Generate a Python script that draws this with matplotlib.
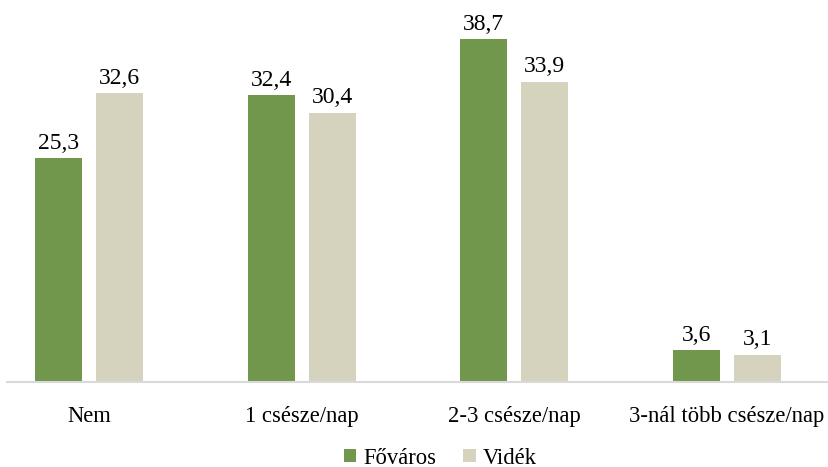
import matplotlib.pyplot as plt
import numpy as np

categories = ['Nem', '1 csésze/nap', '2-3 csésze/nap', '3-nál több csésze/nap']
fovaros = [25.3, 32.4, 38.7, 3.6]
videk = [32.6, 30.4, 33.9, 3.1]
series_names = ['Főváros', 'Vidék']

plt.rcParams['font.family'] = ['Liberation Serif', 'DejaVu Serif']

fig = plt.figure(figsize=(8.29, 4.67), dpi=100)
ax = fig.add_axes([7 / 829, 85 / 467, 822 / 829, 382 / 467])

x = np.arange(len(categories))
w = 0.221
off = 0.1434
b1 = ax.bar(x - off, fovaros, w, color='#70974B', label=series_names[0])
b2 = ax.bar(x + off, videk, w, color='#D5D3BE', label=series_names[1])

for bars, vals in ((b1, fovaros), (b2, videk)):
    for r, v in zip(bars, vals):
        ax.annotate(f'{v:.1f}'.replace('.', ','),
                    (r.get_x() + r.get_width() / 2, r.get_height()),
                    xytext=(0, 3), textcoords='offset points',
                    ha='center', va='bottom', fontsize=17)

ax.set_xlim(-0.386, 3.48)
ax.set_ylim(0, 43.1)
ax.set_xticks(x)
ax.set_xticklabels(categories, fontsize=16.3)
ax.tick_params(axis='x', length=0, pad=17)
ax.set_yticks([])
for s in ['top', 'right', 'left']:
    ax.spines[s].set_visible(False)
ax.spines['bottom'].set_color('#D9D9D9')
ax.spines['bottom'].set_linewidth(1.5)

fig.legend(loc='center', bbox_to_anchor=(440 / 829, 1 - 458 / 467), ncol=2,
           frameon=False, fontsize=16.3, handlelength=0.55, handleheight=0.55,
           handletextpad=0.3, columnspacing=1.2)

fig.savefig('out.png', dpi=100)
